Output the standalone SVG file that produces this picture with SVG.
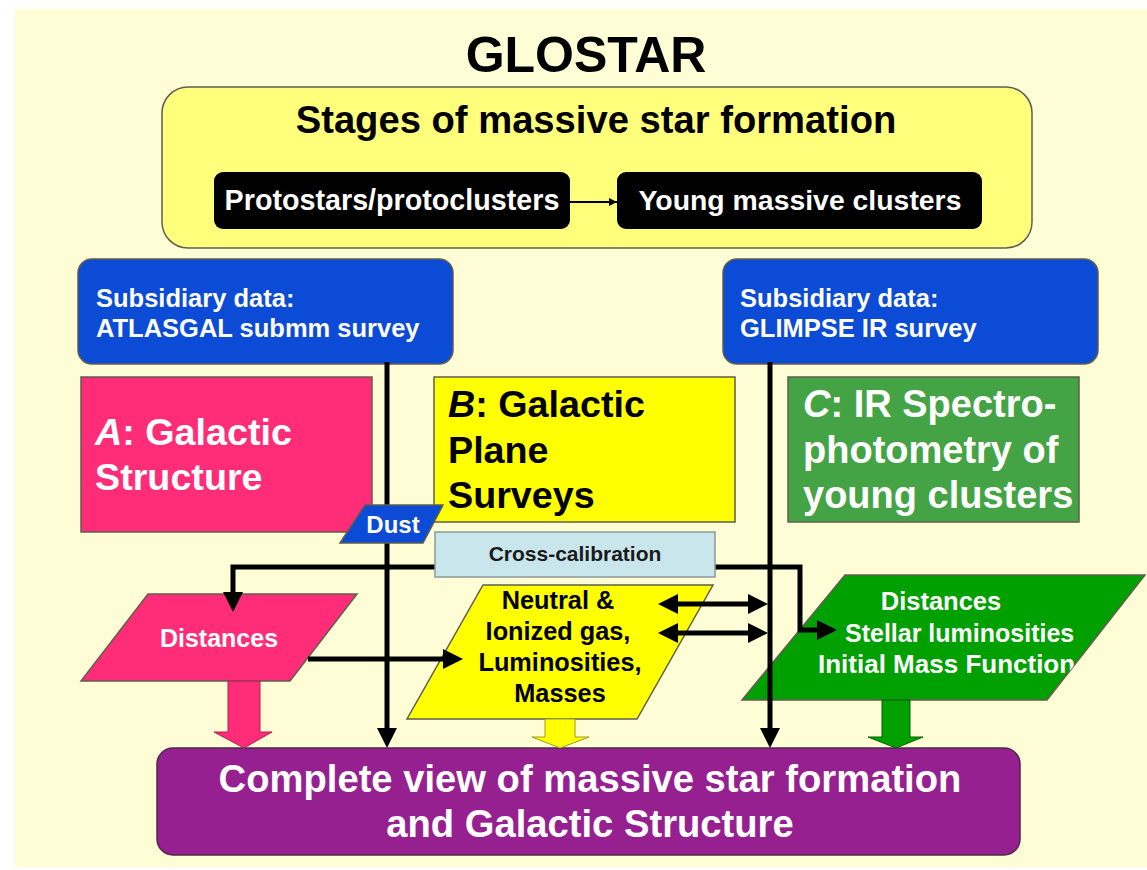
<svg xmlns="http://www.w3.org/2000/svg" width="1147" height="870" viewBox="0 0 1147 870">
<defs>
<style>
.t{font-family:"Liberation Sans",Arial,sans-serif;font-weight:bold}
.w{fill:#fff}
.k{fill:#000}
.ln{fill:none;stroke:#000;stroke-width:5;stroke-linejoin:miter}
.edge{stroke:#5e5e50;stroke-width:1.5}
.pink{fill:#FF2D78}
.yel{fill:#FFFF00}
.blue{fill:#0B4BD6}
.dgreen{fill:#00A000}
</style>
<marker id="ah" viewBox="0 0 20 20" refX="10" refY="10" markerWidth="20" markerHeight="20" markerUnits="userSpaceOnUse" orient="auto-start-reverse">
<path d="M0,0 L20,10 L0,20 z" fill="#000"/>
</marker>
<marker id="ahs" viewBox="0 0 10 10" refX="10" refY="5" markerWidth="9" markerHeight="8" markerUnits="userSpaceOnUse" orient="auto">
<path d="M0,0 L10,5 L0,10 z" fill="#000"/>
</marker>
<clipPath id="gclip"><polygon points="845,575 1145,575 1047,700 742,700"/></clipPath>
</defs>

<rect x="15" y="9" width="1132" height="858" fill="#FFFDD6"/>

<text class="t k" x="586" y="72" font-size="50" text-anchor="middle">GLOSTAR</text>

<g id="stages">
<rect x="162" y="87" width="870" height="161" rx="26" fill="#FFFF7C" class="edge"/>
<text class="t k" x="596" y="133" font-size="38.2" text-anchor="middle">Stages of massive star formation</text>
</g>

<g id="protostars">
<rect x="214" y="172" width="356" height="57" rx="9" fill="#000"/>
<text class="t w" x="392" y="210" font-size="28.7" text-anchor="middle">Protostars/protoclusters</text>
</g>

<g id="young-clusters">
<rect x="617" y="172" width="365" height="57" rx="9" fill="#000"/>
<text class="t w" x="800" y="210" font-size="28.4" text-anchor="middle">Young massive clusters</text>
</g>

<g id="atlasgal">
<rect x="78" y="259" width="375" height="105" rx="14" class="blue edge"/>
<text class="t w" x="96" y="307" font-size="25.5">Subsidiary data:</text>
<text class="t w" x="96" y="337" font-size="25.5">ATLASGAL submm survey</text>
</g>

<g id="glimpse">
<rect x="723" y="259" width="375" height="105" rx="14" class="blue edge"/>
<text class="t w" x="740" y="307" font-size="25.5">Subsidiary data:</text>
<text class="t w" x="740" y="337" font-size="25.5">GLIMPSE IR survey</text>
</g>

<g id="box-a">
<rect x="81" y="377" width="291" height="155" class="pink edge"/>
<text class="t w" x="95" y="445" font-size="37.7"><tspan font-style="italic">A</tspan>: Galactic</text>
<text class="t w" x="95" y="490" font-size="37.7">Structure</text>
</g>

<g id="box-b">
<rect x="434" y="377" width="301" height="145" class="yel edge"/>
<text class="t k" x="448" y="417" font-size="37.7"><tspan font-style="italic">B</tspan>: Galactic</text>
<text class="t k" x="448" y="463" font-size="37.7">Plane</text>
<text class="t k" x="448" y="508" font-size="37.7">Surveys</text>
</g>

<g id="box-c">
<rect x="788" y="377" width="291" height="145" fill="#44A344" class="edge"/>
<text class="t w" x="803" y="417" font-size="38"><tspan font-style="italic">C</tspan>: IR Spectro-</text>
<text class="t w" x="803" y="463" font-size="38">photometry of</text>
<text class="t w" x="803" y="508" font-size="38">young clusters</text>
</g>

<g id="complete-view">
<rect x="157" y="748" width="863" height="107" rx="16" fill="#962090" stroke="#4a2a48" stroke-width="1.5"/>
<text class="t w" x="590" y="792" font-size="38.2" text-anchor="middle">Complete view of massive star formation</text>
<text class="t w" x="590" y="837" font-size="38.2" text-anchor="middle">and Galactic Structure</text>
</g>

<g id="distances-a">
<polygon points="148,594 357,594 290,681 81,681" class="pink edge"/>
<text class="t w" x="219" y="647" font-size="25" text-anchor="middle">Distances</text>
</g>

<g id="gas-b">
<polygon points="483,585 713,585 637,719 407,719" class="yel edge"/>
<text class="t k" x="558" y="609" font-size="25.3" text-anchor="middle">Neutral &amp;</text>
<text class="t k" x="558" y="640" font-size="25.3" text-anchor="middle">Ionized gas,</text>
<text class="t k" x="560" y="671" font-size="25.3" text-anchor="middle">Luminosities,</text>
<text class="t k" x="560" y="702" font-size="25.3" text-anchor="middle">Masses</text>
</g>

<g id="clusters-c">
<polygon points="845,575 1145,575 1047,700 742,700" class="dgreen edge"/>
<g clip-path="url(#gclip)">
<text class="t w" x="941" y="610" font-size="25.5" text-anchor="middle">Distances</text>
<text class="t w" x="845" y="642" font-size="25">Stellar luminosities</text>
<text class="t w" x="818" y="673" font-size="26">Initial Mass Function</text>
</g>
</g>

<g id="connectors">
<line x1="570" y1="202" x2="617" y2="202" stroke="#000" stroke-width="2" marker-end="url(#ahs)"/>
<path class="ln" d="M387,362 V738" marker-end="url(#ah)"/>
<path class="ln" d="M770,362 V738" marker-end="url(#ah)"/>
<path class="ln" d="M233,602 V567 H800 V630 H827" marker-start="url(#ah)" marker-end="url(#ah)"/>
<path class="ln" d="M308,659 H453" marker-end="url(#ah)"/>
<path class="ln" d="M668,604 H758" marker-start="url(#ah)" marker-end="url(#ah)"/>
<path class="ln" d="M668,633 H758" marker-start="url(#ah)" marker-end="url(#ah)"/>
<polygon points="228,681 260,681 260,732 272,732 244,748 214,732 228,732" class="pink" stroke="#b0204f" stroke-width="1"/>
<polygon points="545,719 575,719 575,737 589,737 560,748 532,737 545,737" class="yel" stroke="#9a9a20" stroke-width="1"/>
<polygon points="882,700 910,700 910,737 923,737 896,748 868,737 882,737" class="dgreen" stroke="#006000" stroke-width="1"/>
</g>

<g id="cross-calibration">
<rect x="435" y="532" width="280" height="45" fill="#C8E6EC" stroke="#8a9a9a" stroke-width="1.5"/>
<text class="t" x="575" y="561" font-size="21" fill="#1a1a1a" text-anchor="middle">Cross-calibration</text>
</g>

<g id="dust">
<polygon points="340,543 365,505 443,505 423,543" class="blue edge"/>
<text class="t w" x="393" y="533" font-size="24" text-anchor="middle">Dust</text>
</g>
</svg>
